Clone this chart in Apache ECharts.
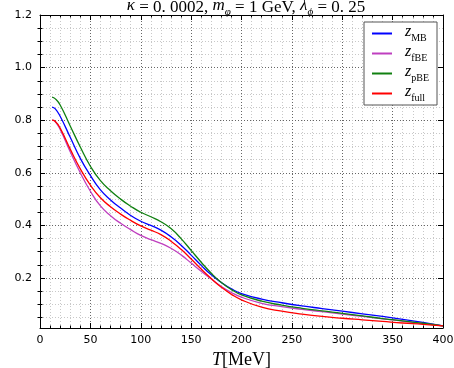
<!DOCTYPE html>
<html>
<head>
<meta charset="utf-8">
<title>z(T)</title>
<script src="https://cdn.jsdelivr.net/npm/echarts@6/dist/echarts.min.js"></script>
<style>
  html,body{margin:0;padding:0;background:#fff;}
  #chart{width:454px;height:368px;}
</style>
</head>
<body>
<div id="chart"></div>
<script>
    // temperature grid (MeV)
    var temps = [12, 15, 20, 30, 40, 50, 60, 70, 80, 90, 100, 110, 120, 130, 140, 150, 160, 170, 180, 190, 200, 220, 240, 260, 280, 300, 320, 340, 360, 380, 400];
    var zMB   = [0.850, 0.844, 0.815, 0.735, 0.655, 0.590, 0.535, 0.497, 0.466, 0.438, 0.416, 0.400, 0.382, 0.357, 0.325, 0.287, 0.248, 0.212, 0.183, 0.159, 0.141, 0.120, 0.106, 0.094, 0.084, 0.074, 0.064, 0.054, 0.043, 0.031, 0.018];
    var zfBE  = [0.800, 0.795, 0.765, 0.680, 0.600, 0.530, 0.474, 0.437, 0.408, 0.384, 0.362, 0.346, 0.332, 0.313, 0.288, 0.257, 0.226, 0.196, 0.168, 0.145, 0.127, 0.104, 0.091, 0.081, 0.072, 0.063, 0.054, 0.045, 0.036, 0.027, 0.018];
    var zpBE  = [0.888, 0.882, 0.858, 0.778, 0.698, 0.625, 0.570, 0.532, 0.500, 0.473, 0.450, 0.433, 0.414, 0.388, 0.350, 0.305, 0.260, 0.218, 0.183, 0.156, 0.136, 0.112, 0.097, 0.085, 0.075, 0.066, 0.056, 0.046, 0.037, 0.028, 0.018];
    var zfull = [0.800, 0.796, 0.770, 0.690, 0.615, 0.553, 0.505, 0.471, 0.443, 0.419, 0.398, 0.382, 0.365, 0.340, 0.309, 0.272, 0.234, 0.198, 0.165, 0.138, 0.117, 0.089, 0.074, 0.063, 0.054, 0.047, 0.041, 0.035, 0.029, 0.024, 0.018];

    var seriesNames = ['MB', 'fBE', 'pBE', 'full'];
    var seriesColors = ['#0000ff', '#bf3fbf', '#108010', '#ff0000'];

    var yMajor = [0.2, 0.4, 0.6, 0.8, 1.0, 1.2];
    var yMinor = [0.05, 0.1, 0.15, 0.25, 0.3, 0.35, 0.45, 0.5, 0.55, 0.65, 0.7, 0.75, 0.85, 0.9, 0.95, 1.05, 1.1, 1.15];

    function pairs(vals) {
        var out = [];
        for (var i = 0; i < temps.length; i++) out.push([temps[i], vals[i]]);
        return out;
    }

    var serif = '"Liberation Serif", "DejaVu Serif", serif';
    var majorGrid = {show: true, lineStyle: {color: '#666', width: 1, type: [1, 2]}};
    var minorGrid = {show: true, lineStyle: {color: '#c8c8c8', width: 1, type: [1, 2]}};
    var blackLine = {show: true, onZero: false, lineStyle: {color: '#000', width: 1}};

    var chart = echarts.init(document.getElementById('chart'));

    chart.setOption({
        animation: false,
        backgroundColor: '#fff',
        title: {
            text: '{i|κ} = 0. 0002, {i|m}{s|φ} = 1 GeV, {i|λ}{s|ϕ} = 0. 25',
            left: 241,
            textAlign: 'center',
            top: -8,
            textStyle: {
                fontFamily: serif, fontSize: 17, fontWeight: 'normal', color: '#000',
                rich: {
                    i: {fontFamily: serif, fontSize: 17, fontStyle: 'italic', verticalAlign: 'bottom', padding: [0, 0, 4, 0]},
                    s: {fontFamily: serif, fontSize: 11, fontStyle: 'italic', verticalAlign: 'bottom'}
                }
            }
        },
        legend: {
            orient: 'vertical',
            left: 364,
            top: 22,
            padding: [2, 8, 2, 8],
            itemWidth: 20,
            itemHeight: 2,
            itemGap: 1,
            icon: 'rect',
            backgroundColor: '#fff',
            borderColor: '#555',
            borderWidth: 1,
            borderRadius: 0,
            data: seriesNames,
            formatter: function (name) {
                return '{z|z}{s|' + name + '}';
            },
            textStyle: {
                rich: {
                    z: {fontFamily: serif, fontSize: 16, fontStyle: 'italic', color: '#000', verticalAlign: 'bottom', padding: [0, 0, 3, 8]},
                    s: {fontFamily: serif, fontSize: 10, color: '#000', verticalAlign: 'bottom'}
                }
            }
        },
        grid: {left: 40, right: 11, top: 15, bottom: 40, outerBoundsMode: 'none'},
        xAxis: [
            {
                type: 'value', position: 'bottom', min: 0, max: 400, interval: 50,
                axisLine: blackLine,
                axisTick: {inside: true, length: 5, lineStyle: {color: '#000'}},
                minorTick: {show: true, splitNumber: 5, length: 2.5, lineStyle: {color: '#000'}},
                splitLine: majorGrid,
                minorSplitLine: minorGrid,
                axisLabel: {color: '#000', fontFamily: 'DejaVu Sans', fontSize: 11, margin: 7},
                name: '{i|T}[MeV]',
                nameLocation: 'middle',
                nameGap: 20,
                nameTextStyle: {
                    fontFamily: serif, fontSize: 18, color: '#000',
                    rich: {i: {fontFamily: serif, fontSize: 18, fontStyle: 'italic'}}
                }
            },
            {
                type: 'value', position: 'top', min: 0, max: 400, interval: 50,
                axisLine: blackLine,
                axisTick: {inside: true, length: 5, lineStyle: {color: '#000'}},
                minorTick: {show: true, splitNumber: 5, length: 2.5, lineStyle: {color: '#000'}},
                splitLine: {show: false},
                axisLabel: {show: false}
            }
        ],
        yAxis: [
            {
                type: 'value', position: 'left', min: 0.01, max: 1.2,
                axisLine: blackLine,
                axisTick: {inside: true, length: 5, customValues: yMajor, lineStyle: {color: '#000'}},
                splitLine: majorGrid,
                axisLabel: {
                    customValues: yMajor, color: '#000', fontFamily: 'DejaVu Sans', fontSize: 11, margin: 8,
                    formatter: function (v) { return v.toFixed(1); }
                },
                name: 'z',
                nameLocation: 'middle',
                nameRotate: 90,
                nameGap: 33,
                nameTextStyle: {fontFamily: serif, fontSize: 16, fontStyle: 'italic', color: '#000'}
            },
            {
                type: 'value', position: 'left', min: 0.01, max: 1.2,
                axisLine: {show: false},
                axisTick: {inside: true, length: 2.5, customValues: yMinor, lineStyle: {color: '#000'}},
                splitLine: minorGrid,
                axisLabel: {show: false}
            },
            {
                type: 'value', position: 'right', min: 0.01, max: 1.2,
                axisLine: blackLine,
                axisTick: {inside: true, length: 5, customValues: yMajor, lineStyle: {color: '#000'}},
                splitLine: {show: false},
                axisLabel: {show: false}
            },
            {
                type: 'value', position: 'right', min: 0.01, max: 1.2,
                axisLine: {show: false},
                axisTick: {inside: true, length: 2.5, customValues: yMinor, lineStyle: {color: '#000'}},
                splitLine: {show: false},
                axisLabel: {show: false}
            }
        ],
        series: [
            {name: 'MB',   type: 'line', data: pairs(zMB)},
            {name: 'fBE',  type: 'line', data: pairs(zfBE)},
            {name: 'pBE',  type: 'line', data: pairs(zpBE)},
            {name: 'full', type: 'line', data: pairs(zfull)}
        ].map(function (s, i) {
            s.showSymbol = false;
            s.smooth = 0.5;
            s.color = seriesColors[i];
            s.lineStyle = {width: 1.3, color: seriesColors[i]};
            s.z = 3;
            return s;
        })
    });
</script>
</body>
</html>
